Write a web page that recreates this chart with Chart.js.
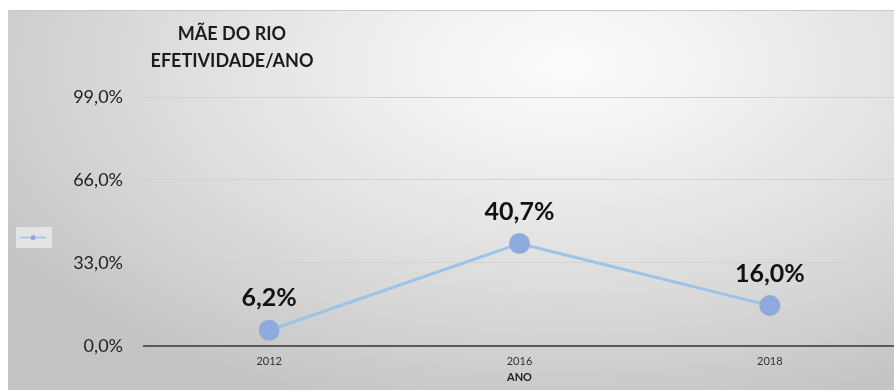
<!DOCTYPE html>
<html lang="pt-BR">
<head>
<meta charset="UTF-8">
<script src="https://cdn.jsdelivr.net/npm/chart.js@4.4.1/dist/chart.umd.min.js"></script>
<style>
  html, body { margin: 0; padding: 0; background: #fff; overflow: hidden; }
  #painel {
    position: absolute; left: 8px; top: 10px; width: 886px; height: 380px;
    overflow: hidden;
    border-top: 1px solid #c9c9c9;
    background: radial-gradient(ellipse 75% 95% at 63% 14%, #fcfcfc 0%, #eeeeee 30%, #dcdcdc 62%, #c4c4c4 100%);
  }
  #graficoEfetividade { display: block; }
</style>
</head>
<body>
<div id="painel">
  <canvas id="graficoEfetividade" width="899" height="380"></canvas>
</div>
<script>
const anos = ['2012', '2016', '2018'];
const efetividade = [6.2, 40.7, 16.0];
const marcasY = [0, 33, 66, 99];
const tituloLinhas = ['MÃE DO RIO', 'EFETIVIDADE/ANO'];

const corLinha = 'rgb(157, 195, 230)';
const corPonto = 'rgb(143, 170, 220)';
const fonte = 'Lato, "Open Sans", sans-serif';

function formatarPct(v) {
  return v.toFixed(1).replace('.', ',') + '%';
}

// título em duas linhas centralizadas, no canto superior esquerdo
const tituloPlugin = {
  id: 'tituloMaeDoRio',
  afterDraw(chart) {
    const ctx = chart.ctx;
    ctx.save();
    ctx.fillStyle = '#1c1c1c';
    ctx.font = 'bold 18px ' + fonte;
    ctx.textAlign = 'center';
    ctx.textBaseline = 'middle';
    tituloLinhas.forEach((t, i) => ctx.fillText(t, 224, 23 + i * 27));
    ctx.restore();
  }
};

// rótulos de valor acima de cada ponto
const rotulosPlugin = {
  id: 'rotulosValor',
  afterDatasetsDraw(chart) {
    const ctx = chart.ctx;
    const meta = chart.getDatasetMeta(0);
    ctx.save();
    ctx.fillStyle = '#111';
    ctx.font = 'bold 25px ' + fonte;
    ctx.textAlign = 'center';
    ctx.textBaseline = 'middle';
    meta.data.forEach((p, i) => {
      ctx.fillText(formatarPct(chart.data.datasets[0].data[i]), p.x, p.y - 32);
    });
    ctx.restore();
  }
};

// legenda sem texto: só a amostra da linha com o ponto
const legendaPlugin = {
  id: 'legendaAmostra',
  afterDraw(chart) {
    const ctx = chart.ctx;
    ctx.save();
    ctx.fillStyle = 'rgba(235, 235, 235, 0.8)';
    ctx.fillRect(8, 216, 36, 21);
    ctx.strokeStyle = corLinha;
    ctx.lineWidth = 1.5;
    ctx.beginPath();
    ctx.moveTo(12, 226.5);
    ctx.lineTo(38, 226.5);
    ctx.stroke();
    ctx.fillStyle = corPonto;
    ctx.beginPath();
    ctx.arc(25, 226.5, 2.5, 0, Math.PI * 2);
    ctx.fill();
    ctx.restore();
  }
};

const ctx = document.getElementById('graficoEfetividade').getContext('2d');

new Chart(ctx, {
  type: 'line',
  data: {
    labels: anos,
    datasets: [{
      label: '',
      data: efetividade,
      borderColor: corLinha,
      borderWidth: 3,
      pointBackgroundColor: corPonto,
      pointBorderColor: corPonto,
      pointRadius: 9,
      pointHoverRadius: 9,
      tension: 0
    }]
  },
  options: {
    responsive: false,
    animation: false,
    layout: { padding: { top: 86, right: 0, bottom: 8, left: 0 } },
    scales: {
      x: {
        offset: true,
        grid: { display: false, drawTicks: false },
        border: { display: true, color: '#5a5a5a', width: 2 },
        ticks: { color: '#333', padding: 9, font: { family: fonte, size: 11 } },
        title: {
          display: true,
          text: 'ANO',
          color: '#222',
          padding: { top: -5, bottom: 0 },
          font: { family: fonte, size: 11, weight: 'bold', lineHeight: 1 }
        }
      },
      y: {
        min: 0,
        max: 99,
        afterBuildTicks(scale) {
          scale.ticks = marcasY.map(v => ({ value: v }));
        },
        afterFit(scale) {
          scale.width = 136;
        },
        grid: { color: '#d2d2d2', lineWidth: 1, drawTicks: false },
        border: { display: false },
        ticks: {
          color: '#222',
          padding: 21,
          font: { family: fonte, size: 18 },
          callback: v => formatarPct(v)
        }
      }
    },
    plugins: {
      legend: { display: false },
      tooltip: { enabled: false }
    }
  },
  plugins: [tituloPlugin, rotulosPlugin, legendaPlugin]
});
</script>
</body>
</html>
